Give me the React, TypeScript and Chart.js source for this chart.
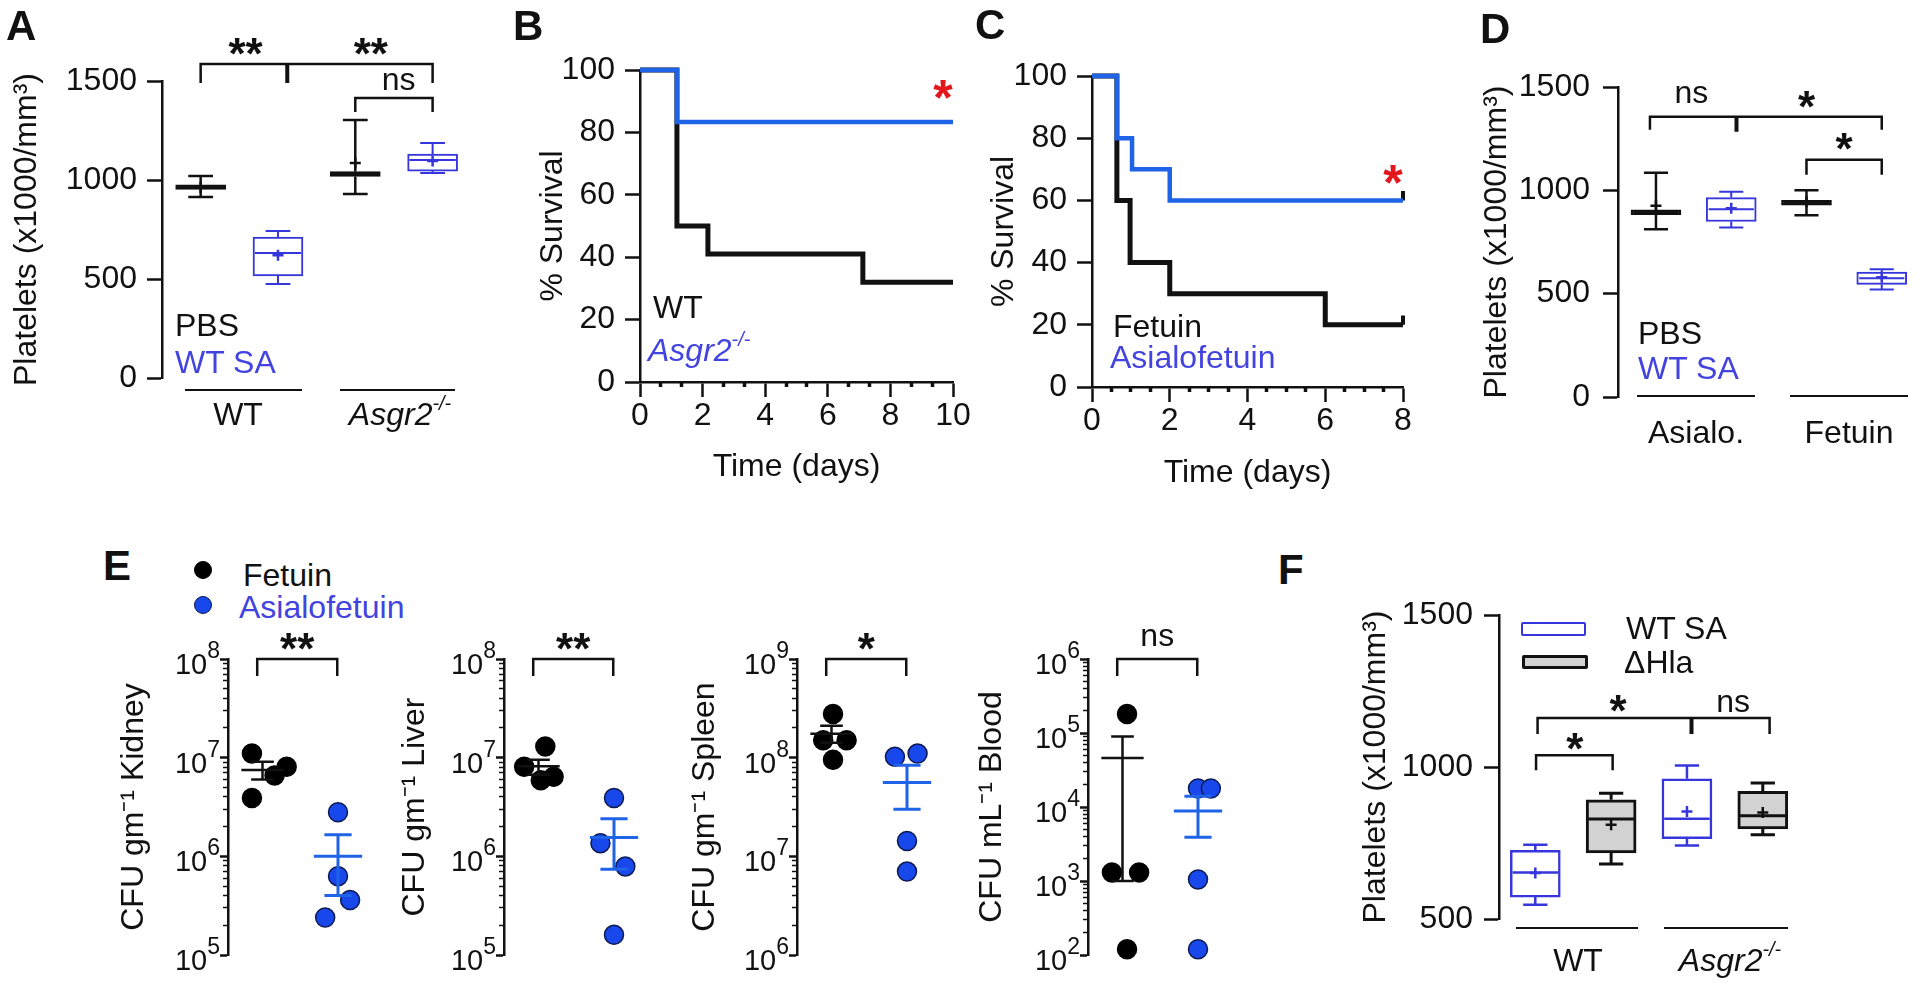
import React, { useEffect, useRef } from 'react';
import { Chart, registerables } from 'chart.js';

Chart.register(...registerables);

const FONT = '"Liberation Sans", Arial, Helvetica, sans-serif';
const INK = '#111111';
const BOX_BLUE = '#3636dc';
const TEXT_BLUE = '#4343e0';
const LINE_BLUE = '#1f63e6';
const DOT_BLUE = '#1848ec';
const DOT_EDGE = '#0d1a50';
const GRAY_FILL = '#d2d2d2';
const STAR_RED = '#e3161d';

Chart.defaults.font.family = FONT;
Chart.defaults.font.size = 32;
Chart.defaults.color = INK;

// ---------------- DATA ----------------
// Panel A (platelets, box plots: PBS-WT, WTSA-WT, PBS-Asgr2, WTSA-Asgr2)
const aGroups = ['WT', 'Asgr2'];
const aSeries = ['PBS', 'WT SA'];
const aYTicks = [0, 500, 1000, 1500];
const aLow = [914, 475, 929, 1035];
const aQ1 = [952, 515, 1018, 1045];
const aMedian = [964, 631, 1030, 1101];
const aQ3 = [976, 712, 1042, 1131];
const aHigh = [1020, 742, 1303, 1187];
const aMean = [962, 620, 1086, 1096];

// Panel B (survival, WT vs Asgr2-/-)
const bXTicks = [0, 2, 4, 6, 8, 10];
const bYTicks = [0, 20, 40, 60, 80, 100];
const bWTDays = [0, 1.18, 2.17, 7.12, 10];
const bWTSurvival = [100, 50, 41, 32, 32];
const bKODays = [0, 1.18, 10];
const bKOSurvival = [100, 83.3, 83.3];

// Panel C (survival, Fetuin vs Asialofetuin)
const cXTicks = [0, 2, 4, 6, 8];
const cYTicks = [0, 20, 40, 60, 80, 100];
const cFetDays = [0, 0.64, 0.98, 2.0, 6.0, 8];
const cFetSurvival = [100, 60, 40, 30, 20, 20];
const cAsiaDays = [0, 0.64, 1.03, 2.0, 8];
const cAsiaSurvival = [100, 80, 70, 60, 60];
const cCensorDays = [8, 8];
const cCensorSurvival = [20, 60];

// Panel D (platelets: PBS-Asialo, WTSA-Asialo, PBS-Fetuin, WTSA-Fetuin)
const dGroups = ['Asialo.', 'Fetuin'];
const dYTicks = [0, 500, 1000, 1500];
const dLow = [812, 820, 880, 520];
const dQ1 = [882, 849, 928, 545];
const dMedian = [894, 908, 940, 575];
const dQ3 = [906, 965, 952, 605];
const dHigh = [1085, 993, 1000, 618];
const dMean = [925, 913, 945, 580];

// Panel E (CFU, log scale). stats = [mean, SEM low, SEM high]
const eOrgans = ['Kidney', 'Liver', 'Spleen', 'Blood'];
const kidneyFetuin = [1.1e7, 3.9e6, 6.6e6, 8.1e6];
const kidneyAsialo = [2.8e6, 6.3e5, 3.6e5, 2.4e5];
const kidneyFetuinStat = [7.5e6, 6.0e6, 9.1e6];
const kidneyAsialoStat = [1.0e6, 4.0e5, 1.65e6];
const liverFetuin = [1.3e7, 8.1e6, 5.9e6, 6.4e6];
const liverAsialo = [3.9e6, 1.36e6, 7.9e5, 1.6e5];
const liverFetuinStat = [8.2e6, 6.7e6, 9.5e6];
const liverAsialoStat = [1.55e6, 7.4e5, 2.4e6];
const spleenFetuin = [2.77e8, 1.5e8, 1.5e8, 9.5e7];
const spleenAsialo = [1.02e8, 1.1e8, 1.43e7, 7.0e6];
const spleenFetuinStat = [1.75e8, 1.42e8, 2.1e8];
const spleenAsialoStat = [5.6e7, 3.0e7, 8.4e7];
const bloodFetuin = [1.8e5, 1.3e3, 1.3e3, 1.2e2];
const bloodAsialo = [1.78e4, 1.78e4, 1.05e3, 1.2e2];
const bloodFetuinStat = [4.6e4, 1.0e3, 9.0e4];
const bloodAsialoStat = [8.8e3, 3.9e3, 1.4e4];
const eDecades = [[5, 8], [5, 8], [6, 9], [2, 6]];
const eSignif = ['**', '**', '*', 'ns'];

// Panel F (platelets: WTSA-WT, dHla-WT, WTSA-Asgr2, dHla-Asgr2)
const fYTicks = [500, 1000, 1500];
const fLow = [547, 681, 742, 777];
const fQ1 = [572, 717, 764, 796];
const fMedian = [653, 829, 830, 840];
const fQ3 = [726, 892, 961, 920];
const fHigh = [744, 914, 1005, 947];
const fMean = [651, 810, 854, 850];

// ---------------- LAYOUT (horizontal jitter of scatter points, category units) ----------------
const jitter = {
  kidney: [[-0.14, -0.14, 0.16, 0.32], [0, 0, 0.16, -0.17]],
  liver: [[0.09, -0.19, 0.03, 0.2], [0, -0.18, 0.15, 0]],
  spleen: [[0.02, -0.11, 0.2, 0.02], [-0.16, 0.14, 0, 0]],
  blood: [[0.06, -0.14, 0.22, 0.06], [0, 0.17, 0, 0]],
};

// ---------------- HELPERS ----------------
const SUP: Record<string, string> = { '0': '⁰', '1': '¹', '2': '²', '3': '³', '4': '⁴', '5': '⁵', '6': '⁶', '7': '⁷', '8': '⁸', '9': '⁹', '-': '⁻' };
const sup = (s: string) => s.split('').map((c) => SUP[c] || c).join('');

type Bracket = { x1: number; x2: number; y: number; leg: number; mid?: number; midLeg?: number };
type Note = { x: number; y: number; text: string; font: string; color?: string; dy?: number };

function annotations(brackets: Bracket[], notes: Note[]) {
  return {
    id: 'annotations',
    afterDatasetsDraw(chart: any) {
      const ctx = chart.ctx;
      const xs = chart.scales.x;
      const ys = chart.scales.y;
      ctx.save();
      ctx.strokeStyle = INK;
      ctx.lineWidth = 2.5;
      ctx.lineCap = 'butt';
      ctx.lineJoin = 'miter';
      for (const b of brackets) {
        const x1 = xs.getPixelForValue(b.x1);
        const x2 = xs.getPixelForValue(b.x2);
        const y = ys.getPixelForValue(b.y);
        ctx.beginPath();
        ctx.moveTo(x1, y + b.leg);
        ctx.lineTo(x1, y);
        ctx.lineTo(x2, y);
        ctx.lineTo(x2, y + b.leg);
        ctx.stroke();
        if (b.mid !== undefined) {
          const xm = xs.getPixelForValue(b.mid);
          ctx.save();
          ctx.lineWidth = 4;
          ctx.beginPath();
          ctx.moveTo(xm, y);
          ctx.lineTo(xm, y + (b.midLeg ?? b.leg));
          ctx.stroke();
          ctx.restore();
        }
      }
      for (const n of notes) {
        ctx.font = n.font;
        ctx.fillStyle = n.color || INK;
        ctx.textAlign = 'center';
        ctx.textBaseline = 'alphabetic';
        const m = ctx.measureText(n.text);
        const x = xs.getPixelForValue(n.x);
        const y = ys.getPixelForValue(n.y) + (n.dy || 0);
        ctx.fillText(n.text, x, y + (m.actualBoundingBoxAscent - m.actualBoundingBoxDescent) / 2);
      }
      ctx.restore();
    },
  };
}

// draws "10" with a raised exponent next to each major tick of a log axis
const powerLabels = {
  id: 'powerLabels',
  afterDraw(chart: any) {
    const ys = chart.scales.y;
    const ctx = chart.ctx;
    ctx.save();
    ctx.fillStyle = INK;
    ctx.textBaseline = 'alphabetic';
    for (const t of ys.ticks) {
      const y = ys.getPixelForValue(t.value);
      const exp = String(Math.round(Math.log10(t.value)));
      const right = ys.right - 8;
      ctx.font = `23px ${FONT}`;
      ctx.textAlign = 'right';
      const ew = ctx.measureText(exp).width;
      ctx.fillText(exp, right, y - 1);
      ctx.font = `29px ${FONT}`;
      ctx.fillText('10', right - ew, y + 15);
    }
    ctx.restore();
  },
};

type BoxStats = { lo: number[]; q1: number[]; med: number[]; q3: number[]; hi: number[]; mean: number[] };

function boxDatasets(s: BoxStats, stroke: string[], fill: string[], lw: number[]) {
  const ds: any[] = [];
  const half = 0.3;
  const cap = 0.16;
  s.med.forEach((_, i) => {
    const x = i + 1;
    const g = () => ({ x, y: null });
    ds.push({
      type: 'line', order: 1, clip: false, pointRadius: 0, spanGaps: false,
      borderColor: stroke[i], borderWidth: lw[i], borderCapStyle: 'butt',
      data: [
        { x, y: s.lo[i] }, { x, y: s.q1[i] }, g(),
        { x, y: s.q3[i] }, { x, y: s.hi[i] }, g(),
        { x: x - cap, y: s.lo[i] }, { x: x + cap, y: s.lo[i] }, g(),
        { x: x - cap, y: s.hi[i] }, { x: x + cap, y: s.hi[i] }, g(),
        { x: x - half, y: s.med[i] }, { x: x + half, y: s.med[i] },
      ],
    });
  });
  ds.push({
    type: 'scatter', order: 0, clip: false,
    data: s.mean.map((m, i) => ({ x: i + 1, y: m })),
    pointStyle: 'cross', pointRadius: 5.5, borderWidth: 2.5,
    pointBorderColor: stroke, borderColor: stroke,
  });
  ds.push({
    type: 'bar', order: 2, grouped: false, barThickness: 50, borderSkipped: false,
    data: s.med.map((_, i) => ({ x: i + 1, y: [s.q1[i], s.q3[i]] })),
    backgroundColor: fill, borderColor: stroke, borderWidth: lw,
  });
  return ds;
}

function linearY(min: number, max: number, ticks: number[], width: number, title: string, titlePad: number, tickPad: number) {
  return {
    type: 'linear', position: 'left', min, max,
    afterBuildTicks: (sc: any) => { sc.ticks = ticks.map((v) => ({ value: v })); },
    afterFit: (sc: any) => { sc.width = width; },
    border: { display: true, color: INK, width: 2.5 },
    grid: { drawOnChartArea: false, drawTicks: true, tickLength: 15, tickWidth: 2.5, tickColor: INK, color: INK },
    ticks: { color: INK, font: { family: FONT, size: 32 }, padding: tickPad, autoSkip: false, maxRotation: 0, callback: (v: any) => String(v) },
    title: { display: true, text: title, color: INK, font: { family: FONT, size: 32 }, padding: { top: titlePad, bottom: 0 } },
  };
}

function timeAxes(max: number, majors: number[], minors: number[], height: number, titlePad: number) {
  return {
    x: {
      type: 'linear', position: 'bottom', min: 0, max, weight: 1,
      afterBuildTicks: (sc: any) => { sc.ticks = majors.map((v) => ({ value: v })); },
      afterFit: (sc: any) => { sc.height = height; },
      border: { display: true, color: INK, width: 2.5 },
      grid: { drawOnChartArea: false, tickLength: 15, tickWidth: 2.5, tickColor: INK },
      ticks: { color: INK, font: { family: FONT, size: 32 }, padding: 0, autoSkip: false, maxRotation: 0, callback: (v: any) => String(v) },
      title: { display: true, text: 'Time (days)', color: INK, font: { family: FONT, size: 32 }, padding: { top: 0, bottom: titlePad } },
    },
    x2: {
      type: 'linear', position: 'bottom', min: 0, max, weight: 0,
      afterBuildTicks: (sc: any) => { sc.ticks = minors.map((v) => ({ value: v })); },
      afterFit: (sc: any) => { sc.height = 0; },
      border: { display: false },
      grid: { drawOnChartArea: false, tickLength: 5, tickWidth: 3.5, tickColor: INK },
      ticks: { display: false },
    },
  };
}

const baseOptions = (padding: any) => ({
  responsive: false,
  animation: false,
  events: [],
  layout: { padding },
  plugins: { legend: { display: false }, tooltip: { enabled: false } },
});

const xy = (xs: number[], ys: number[]) => xs.map((x, i) => ({ x, y: ys[i] }));

// ---------------- CHART CONFIGS ----------------
function configA() {
  const stats = { lo: aLow, q1: aQ1, med: aMedian, q3: aQ3, hi: aHigh, mean: aMean };
  return {
    type: 'scatter',
    data: { datasets: boxDatasets(stats, [INK, BOX_BLUE, INK, BOX_BLUE], ['#ffffff', '#ffffff', '#ffffff', '#ffffff'], [2.5, 2, 2.5, 2]) },
    options: {
      ...baseOptions({ top: 81, bottom: 82, left: 0, right: 11 }),
      scales: {
        x: { type: 'linear', display: false, min: 0.5, max: 4.6, offset: false },
        y: linearY(0, 1500, aYTicks, 162, 'Platelets (x1000/mm³)', 8, 10),
      },
    },
    plugins: [annotations(
      [{ x1: 1, x2: 4, y: 1586, leg: 19, mid: 2.12, midLeg: 19 }, { x1: 3, x2: 4, y: 1414, leg: 14 }],
      [
        { x: 1.58, y: 1672, text: '**', font: `bold 44px ${FONT}` },
        { x: 3.2, y: 1672, text: '**', font: `bold 44px ${FONT}` },
        { x: 3.56, y: 1495, text: 'ns', font: `32px ${FONT}` },
      ],
    )],
  };
}

function configB() {
  return {
    type: 'line',
    data: {
      datasets: [
        { data: xy(bKODays, bKOSurvival), borderColor: LINE_BLUE, borderWidth: 4.5, stepped: 'before', pointRadius: 0, clip: false },
        { data: xy(bWTDays, bWTSurvival), borderColor: INK, borderWidth: 5, stepped: 'before', pointRadius: 0, clip: false },
      ],
    },
    options: {
      ...baseOptions({ top: 70, right: 27, left: 0, bottom: 0 }),
      scales: {
        ...timeAxes(10, bXTicks, Array.from({ length: 16 }, (_, k) => (k * 2) / 3).filter((_, k) => k % 3 !== 0), 118, 14),
        y: linearY(0, 100, bYTicks, 120, '% Survival', 14, 10),
      },
    },
    plugins: [annotations([], [{ x: 9.68, y: 93.6, text: '*', font: `bold 50px ${FONT}`, color: STAR_RED }])],
  };
}

function configC() {
  const censor: any[] = [];
  cCensorDays.forEach((d, i) => {
    censor.push({ x: d, y: cCensorSurvival[i] }, { x: d, y: cCensorSurvival[i] + 3 }, { x: d, y: null });
  });
  return {
    type: 'line',
    data: {
      datasets: [
        { data: xy(cAsiaDays, cAsiaSurvival), borderColor: LINE_BLUE, borderWidth: 4.5, stepped: 'before', pointRadius: 0, clip: false },
        { data: xy(cFetDays, cFetSurvival), borderColor: INK, borderWidth: 5, stepped: 'before', pointRadius: 0, clip: false },
        { data: censor, borderColor: INK, borderWidth: 4, pointRadius: 0, clip: false, spanGaps: false },
      ],
    },
    options: {
      ...baseOptions({ top: 76, right: 27, left: 0, bottom: 0 }),
      scales: {
        ...timeAxes(8, cXTicks, Array.from({ length: 17 }, (_, k) => k * 0.5).filter((_, k) => k % 4 !== 0), 113, 8),
        y: linearY(0, 100, cYTicks, 112, '% Survival', 5, 10),
      },
    },
    plugins: [annotations([], [{ x: 7.74, y: 68.2, text: '*', font: `bold 50px ${FONT}`, color: STAR_RED }])],
  };
}

function configD() {
  const stats = { lo: dLow, q1: dQ1, med: dMedian, q3: dQ3, hi: dHigh, mean: dMean };
  return {
    type: 'scatter',
    data: { datasets: boxDatasets(stats, [INK, BOX_BLUE, INK, BOX_BLUE], ['#ffffff', '#ffffff', '#ffffff', '#ffffff'], [2.5, 2, 2.5, 2]) },
    options: {
      ...baseOptions({ top: 87, bottom: 73, left: 0, right: 0 }),
      scales: {
        x: { type: 'linear', display: false, min: 0.4955, max: 4.402, offset: false },
        y: linearY(0, 1500, dYTicks, 158, 'Platelets (x1000/mm³)', 18, 13),
      },
    },
    plugins: [annotations(
      [{ x1: 0.92, x2: 4, y: 1356, leg: 13, mid: 2.07, midLeg: 15 }, { x1: 3, x2: 4, y: 1148, leg: 15 }],
      [
        { x: 1.47, y: 1463, text: 'ns', font: `32px ${FONT}` },
        { x: 3.0, y: 1440, text: '*', font: `bold 44px ${FONT}` },
        { x: 3.5, y: 1235, text: '*', font: `bold 44px ${FONT}` },
      ],
    )],
  };
}

function configF() {
  const stats = { lo: fLow, q1: fQ1, med: fMedian, q3: fQ3, hi: fHigh, mean: fMean };
  return {
    type: 'scatter',
    data: { datasets: boxDatasets(stats, [BOX_BLUE, INK, BOX_BLUE, INK], ['#ffffff', GRAY_FILL, '#ffffff', GRAY_FILL], [2.5, 3, 2.5, 3]) },
    options: {
      ...baseOptions({ top: 55, bottom: 75, left: 0, right: 0 }),
      scales: {
        x: { type: 'linear', display: false, min: 0.5213, max: 5.968, offset: false },
        y: linearY(500, 1500, fYTicks, 159, 'Platelets (x1000/mm³)', 17, 11),
      },
    },
    plugins: [annotations(
      [{ x1: 1.03, x2: 4.09, y: 1161, leg: 16, mid: 3.06, midLeg: 16 }, { x1: 1.01, x2: 2.02, y: 1039, leg: 15 }],
      [
        { x: 2.09, y: 1210, text: '*', font: `bold 44px ${FONT}` },
        { x: 3.61, y: 1210, text: 'ns', font: `32px ${FONT}` },
        { x: 1.52, y: 1085, text: '*', font: `bold 44px ${FONT}` },
      ],
    )],
  };
}

function semLine(x: number, stat: number[], color: string, width: number, half: number, cap: number) {
  const [m, lo, hi] = stat;
  const g = () => ({ x, y: null });
  return {
    type: 'line', order: 0, clip: false, pointRadius: 0, spanGaps: false, borderColor: color, borderWidth: width, borderCapStyle: 'butt',
    data: [
      { x: x - half, y: m }, { x: x + half, y: m }, g(),
      { x, y: lo }, { x, y: hi }, g(),
      { x: x - cap, y: lo }, { x: x + cap, y: lo }, g(),
      { x: x - cap, y: hi }, { x: x + cap, y: hi },
    ],
  };
}

function dots(x: number, values: number[], jit: number[], fill: string, edge: string) {
  return {
    type: 'scatter', order: 1, clip: false,
    data: values.map((v, i) => ({ x: x + jit[i], y: v })),
    pointRadius: 9.5, pointBackgroundColor: fill, backgroundColor: fill, pointBorderColor: edge, borderColor: edge, pointBorderWidth: 1.5,
  };
}

function configE(idx: number, fet: number[], asia: number[], fetStat: number[], asiaStat: number[], jit: number[][], titlePad: number) {
  const [lo, hi] = eDecades[idx];
  const majors: number[] = [];
  const minors: number[] = [];
  for (let e = lo; e <= hi; e++) majors.push(Math.pow(10, e));
  for (let e = lo; e < hi; e++) for (let k = 2; k <= 9; k++) minors.push(k * Math.pow(10, e));
  const unit = eOrgans[idx] === 'Blood' ? 'mL' : 'gm';
  return {
    type: 'scatter',
    data: {
      datasets: [
        semLine(1, fetStat, INK, 2.5, 0.28, 0.15),
        semLine(2, asiaStat, LINE_BLUE, 3, 0.32, 0.18),
        dots(1, fet, jit[0], '#000000', '#000000'),
        dots(2, asia, jit[1], DOT_BLUE, DOT_EDGE),
      ],
    },
    options: {
      ...baseOptions({ top: 39, bottom: 39, left: 0, right: 0 }),
      scales: {
        x: { type: 'linear', display: false, min: 0.543, max: 2.543, offset: false },
        y: {
          type: 'logarithmic', position: 'left', min: Math.pow(10, lo), max: Math.pow(10, hi), weight: 1,
          afterBuildTicks: (sc: any) => { sc.ticks = majors.map((v) => ({ value: v, major: true })); },
          afterFit: (sc: any) => { sc.width = 128; },
          border: { display: true, color: INK, width: 2.5 },
          grid: { drawOnChartArea: false, tickLength: 8, tickWidth: 2.5, tickColor: INK },
          ticks: { display: false },
          title: { display: true, text: `CFU ${unit}${sup('-1')} ${eOrgans[idx]}`, color: INK, font: { family: FONT, size: 32 }, padding: { top: titlePad, bottom: 0 } },
        },
        y2: {
          type: 'logarithmic', position: 'left', min: Math.pow(10, lo), max: Math.pow(10, hi), weight: 0,
          afterBuildTicks: (sc: any) => { sc.ticks = minors.map((v) => ({ value: v })); },
          afterFit: (sc: any) => { sc.width = 0; },
          border: { display: false },
          grid: { drawOnChartArea: false, tickLength: 5, tickWidth: 1.5, tickColor: INK },
          ticks: { display: false },
        },
      },
    },
    plugins: [powerLabels, annotations(
      [{ x1: 0.93, x2: 1.99, y: Math.pow(10, hi), leg: 17 }],
      [{ x: 1.46, y: Math.pow(10, hi), dy: eSignif[idx] === 'ns' ? -22 : -18, text: eSignif[idx], font: eSignif[idx] === 'ns' ? `32px ${FONT}` : `bold 44px ${FONT}` }],
    )],
  };
}

// ---------------- REACT ----------------
function Panel({ left, top, width, height, make }: { left: number; top: number; width: number; height: number; make: () => any }) {
  const ref = useRef<HTMLCanvasElement>(null);
  useEffect(() => {
    const chart = new Chart(ref.current as HTMLCanvasElement, make());
    return () => chart.destroy();
  }, []);
  return <canvas ref={ref} width={width} height={height} style={{ position: 'absolute', left, top, width, height }} />;
}

function Txt(p: { x: number; y: number; size?: number; color?: string; bold?: boolean; italic?: boolean; center?: boolean; children: React.ReactNode }) {
  const size = p.size ?? 32;
  return (
    <div style={{
      position: 'absolute', left: p.x, top: p.y - size / 2, fontFamily: FONT, fontSize: size, lineHeight: `${size}px`,
      color: p.color ?? INK, fontWeight: p.bold ? 700 : 400, fontStyle: p.italic ? 'italic' : 'normal', whiteSpace: 'nowrap',
      transform: p.center ? 'translateX(-50%)' : undefined,
    }}>{p.children}</div>
  );
}

const KO = ({ name }: { name: string }) => (
  <i>{name}<sup style={{ fontSize: '0.62em', verticalAlign: '0.75em', lineHeight: 0 }}>-/-</sup></i>
);

const HLine = ({ x1, x2, y }: { x1: number; x2: number; y: number }) => (
  <div style={{ position: 'absolute', left: x1, top: y - 1.25, width: x2 - x1, height: 2.5, background: INK }} />
);

const Dot = ({ x, y, fill, edge }: { x: number; y: number; fill: string; edge: string }) => (
  <div style={{ position: 'absolute', left: x - 9, top: y - 9, width: 18, height: 18, borderRadius: '50%', background: fill, boxSizing: 'border-box', border: `1.5px solid ${edge}` }} />
);

export default function App() {
  return (
    <div style={{ position: 'absolute', left: 0, top: 0, width: 1920, height: 994, background: '#ffffff', overflow: 'hidden' }}>
      {/* Panel A */}
      <Panel left={0} top={0} width={490} height={460} make={configA} />
      <Txt x={6} y={26} size={42} bold>A</Txt>
      <Txt x={175} y={325}>{aSeries[0]}</Txt>
      <Txt x={175} y={362} color={TEXT_BLUE}>{aSeries[1]}</Txt>
      <HLine x1={185} x2={302} y={390} />
      <HLine x1={340} x2={455} y={390} />
      <Txt x={238} y={414} center>{aGroups[0]}</Txt>
      <Txt x={400} y={414} center><KO name={aGroups[1]} /></Txt>

      {/* Panel B */}
      <Panel left={520} top={0} width={460} height={500} make={configB} />
      <Txt x={513} y={26} size={42} bold>B</Txt>
      <Txt x={653} y={307}>WT</Txt>
      <Txt x={648} y={350} color={TEXT_BLUE}><KO name="Asgr2" /></Txt>

      {/* Panel C */}
      <Panel left={980} top={0} width={450} height={500} make={configC} />
      <Txt x={975} y={25} size={42} bold>C</Txt>
      <Txt x={1113} y={326}>Fetuin</Txt>
      <Txt x={1110} y={357} color={TEXT_BLUE}>Asialofetuin</Txt>

      {/* Panel D */}
      <Panel left={1460} top={0} width={460} height={470} make={configD} />
      <Txt x={1480} y={29} size={42} bold>D</Txt>
      <Txt x={1638} y={333}>PBS</Txt>
      <Txt x={1638} y={368} color={TEXT_BLUE}>WT SA</Txt>
      <HLine x1={1637} x2={1755} y={396} />
      <HLine x1={1790} x2={1908} y={396} />
      <Txt x={1696} y={432} center>{dGroups[0]}</Txt>
      <Txt x={1849} y={432} center>{dGroups[1]}</Txt>

      {/* Panel E */}
      <Txt x={103} y={566} size={42} bold>E</Txt>
      <Dot x={203} y={570} fill="#000000" edge="#000000" />
      <Txt x={243} y={575}>Fetuin</Txt>
      <Dot x={203} y={605} fill={DOT_BLUE} edge={DOT_EDGE} />
      <Txt x={239} y={607} color={TEXT_BLUE}>Asialofetuin</Txt>
      <Panel left={100} top={620} width={290} height={374} make={() => configE(0, kidneyFetuin, kidneyAsialo, kidneyFetuinStat, kidneyAsialoStat, jitter.kidney, 15)} />
      <Panel left={376} top={620} width={290} height={374} make={() => configE(1, liverFetuin, liverAsialo, liverFetuinStat, liverAsialoStat, jitter.liver, 20)} />
      <Panel left={669} top={620} width={290} height={374} make={() => configE(2, spleenFetuin, spleenAsialo, spleenFetuinStat, spleenAsialoStat, jitter.spleen, 17)} />
      <Panel left={960} top={620} width={290} height={374} make={() => configE(3, bloodFetuin, bloodAsialo, bloodFetuinStat, bloodAsialoStat, jitter.blood, 13)} />

      {/* Panel F */}
      <Panel left={1340} top={560} width={580} height={434} make={configF} />
      <Txt x={1278} y={570} size={42} bold>F</Txt>
      <div style={{ position: 'absolute', left: 1521, top: 622, width: 65, height: 14, border: `2.5px solid ${BOX_BLUE}`, background: '#fff', boxSizing: 'border-box', borderRadius: 2 }} />
      <div style={{ position: 'absolute', left: 1522, top: 655, width: 66, height: 14, border: `3px solid ${INK}`, background: GRAY_FILL, boxSizing: 'border-box', borderRadius: 2 }} />
      <Txt x={1626} y={628}>WT SA</Txt>
      <Txt x={1624} y={662}>ΔHla</Txt>
      <HLine x1={1516} x2={1638} y={928} />
      <HLine x1={1664} x2={1788} y={928} />
      <Txt x={1578} y={960} center>WT</Txt>
      <Txt x={1730} y={960} center><KO name="Asgr2" /></Txt>
    </div>
  );
}
